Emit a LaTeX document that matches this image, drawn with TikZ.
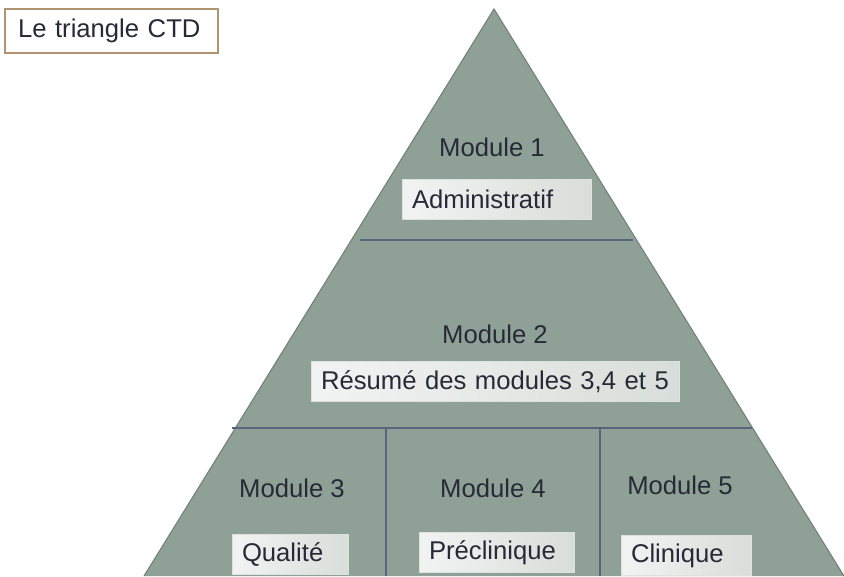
\documentclass[tikz,border=0pt]{standalone}
\usepackage{fontspec}
\setmainfont{Liberation Sans}
\usepackage{tikz}

\definecolor{pyramid}{HTML}{8FA096}
\definecolor{pyramidedge}{HTML}{6F8276}
\definecolor{divider}{HTML}{56657A}
\definecolor{frame}{HTML}{B09470}
\definecolor{ink}{HTML}{262A36}

\begin{document}
\begin{tikzpicture}[x=0.02cm, y=-0.02cm,
  every node/.style={font=\fontsize{14.6}{16}\selectfont, text=ink, outer sep=0pt},
  tag/.style={left color=white!88!pyramid, right color=white!65!pyramid, draw=white!70!pyramid,
    minimum height=0.8cm, inner xsep=0.2cm, align=left}]
\useasboundingbox (0,0) rectangle (844,576);

\coordinate (top) at (494,9);
\coordinate (baseL) at (144,576);
\coordinate (baseR) at (844,576);
\fill[pyramid] (top) -- (baseL) -- (baseR) -- cycle;
\draw[pyramidedge, line width=0.6pt] (baseL) -- (top) -- (baseR);

\node[draw=frame, line width=1.6pt, minimum width=4.26cm, minimum height=0.88cm, text width=3.74cm, align=left] (title) at (111.5,31) {Le triangle CTD};

\node (m1) at (492,147) {Module 1};
\node[tag, text width=3.38cm] (admin) at (496.5,199.5) {Administratif};

\node (m2) at (495,334) {Module 2};
\node[tag, text width=6.96cm] (resume) at (495,381.5) {Résumé des modules 3,4 et 5};

\node (m3) at (292,488) {Module 3};
\node[tag, text width=1.92cm] (qual) at (290,554) {Qualité};

\node (m4) at (493,488) {Module 4};
\node[tag, text width=2.7cm] (precl) at (496.5,552.5) {Préclinique};

\node (m5) at (680,485) {Module 5};
\node[tag, text width=2.2cm] (clin) at (686,555.5) {Clinique};

\coordinate (l1a) at (360,240);
\coordinate (l1b) at (633,240);
\coordinate (l2a) at (232,428);
\coordinate (l2b) at (752,428);
\draw[divider, line width=0.85pt] (l1a) -- (l1b);
\draw[divider, line width=0.85pt] (l2a) -- (l2b);
\draw[divider, line width=0.85pt] (386,428) -- (386,576);
\draw[divider, line width=0.85pt] (600,428) -- (600,576);
\end{tikzpicture}
\end{document}
